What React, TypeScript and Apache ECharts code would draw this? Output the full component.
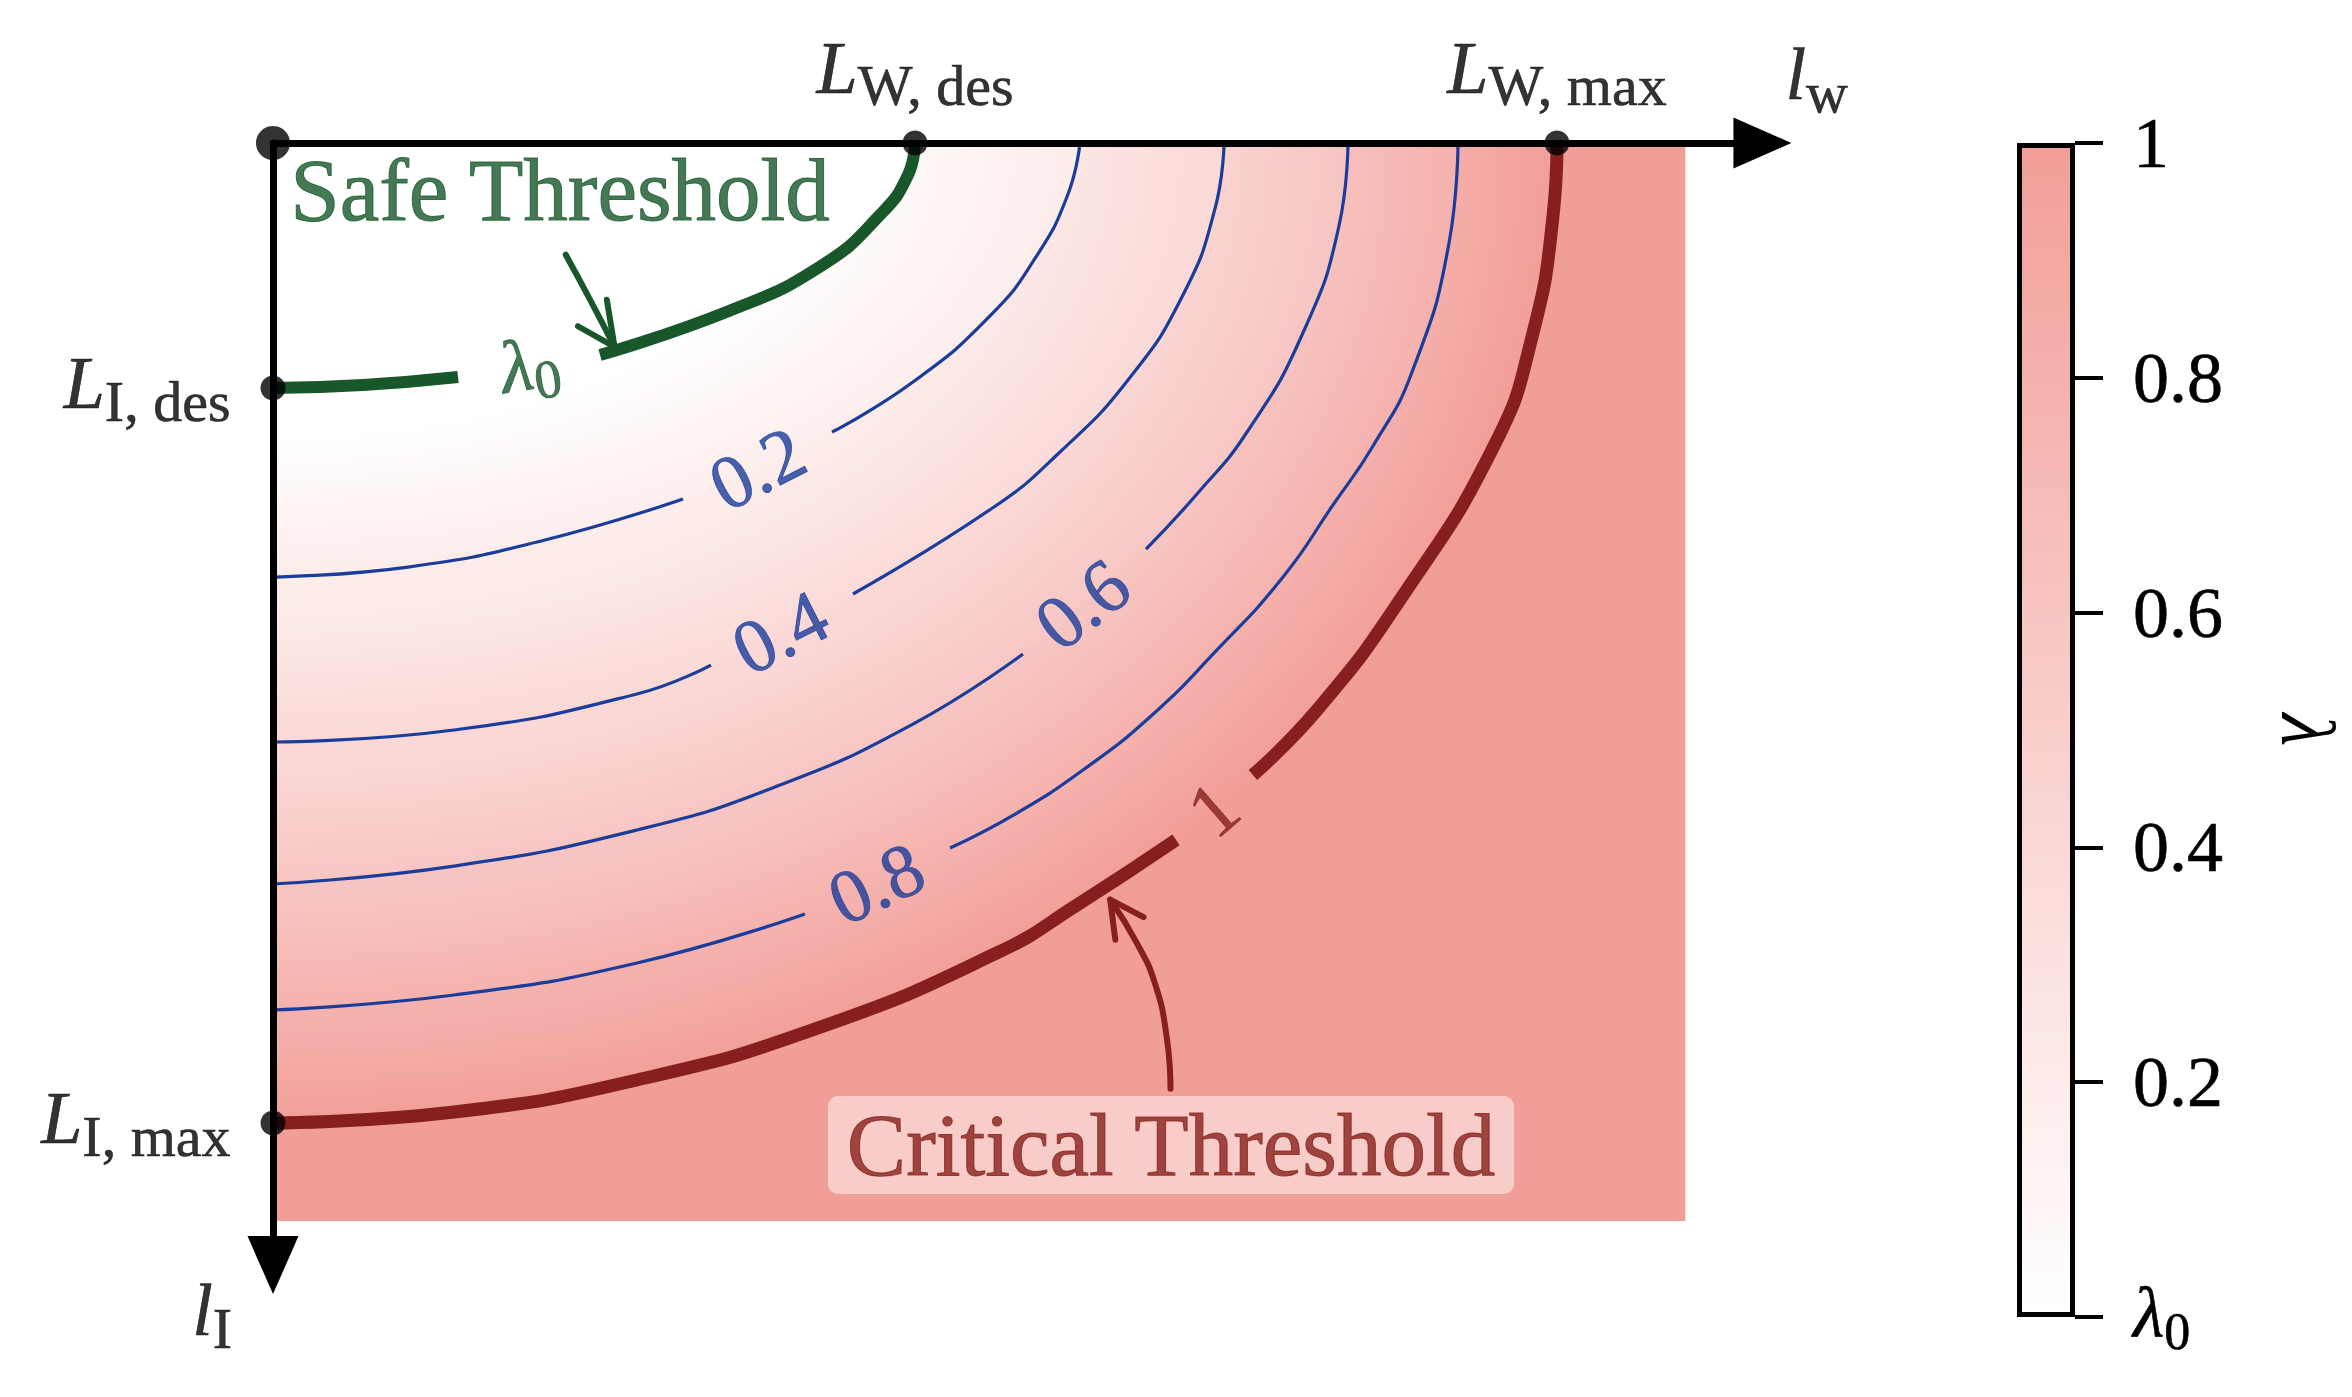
import React, { useEffect, useRef } from 'react';
import * as echarts from 'echarts';

type Pt = [number, number];

// ---------------- data (l_w along x, l_I along y, in units of L_max) ----------------
const levelValues = [0, 0.2, 0.4, 0.6, 0.8, 1];
const levelNames = ['λ0', '0.2', '0.4', '0.6', '0.8', '1'];

// contour lines: from the l_I axis (l_w = 0) to the l_w axis (l_I = 0)
const contourSafe: Pt[] = [[0, 0.25], [0.0701, 0.2469], [0.1441, 0.2388], [0.2002, 0.2296], [0.2547, 0.2163], [0.3551, 0.1714], [0.4268, 0.1255], [0.4735, 0.0724], [0.4945, 0.0327], [0.5, 0]];
const contour02: Pt[] = [[0, 0.4429], [0.1051, 0.4327], [0.2118, 0.4051], [0.3193, 0.3633], [0.3769, 0.3316], [0.4354, 0.2949], [0.4984, 0.2439], [0.5584, 0.1765], [0.5942, 0.1163], [0.6192, 0.052], [0.6285, 0]];
const contour04: Pt[] = [[0, 0.6112], [0.141, 0.599], [0.2835, 0.5622], [0.3411, 0.5327], [0.3949, 0.499], [0.4517, 0.4602], [0.5615, 0.3714], [0.6121, 0.3163], [0.6659, 0.2418], [0.7087, 0.1551], [0.7336, 0.0673], [0.7407, 0]];
const contour06: Pt[] = [[0, 0.7561], [0.141, 0.7378], [0.2835, 0.701], [0.391, 0.6571], [0.4984, 0.5929], [0.5841, 0.5214], [0.6301, 0.4704], [0.6799, 0.4143], [0.7196, 0.3582], [0.7586, 0.2949], [0.8014, 0.1959], [0.8302, 0.0847], [0.8372, 0]];
const contour08: Pt[] = [[0, 0.8847], [0.141, 0.8694], [0.2835, 0.8367], [0.4143, 0.7867], [0.4696, 0.7551], [0.5273, 0.7194], [0.5794, 0.6837], [0.6308, 0.6398], [0.683, 0.5857], [0.7352, 0.5173], [0.7866, 0.4429], [0.8255, 0.3694], [0.8567, 0.3092], [0.8871, 0.2337], [0.9159, 0.102], [0.9229, 0]];
const contourCritical: Pt[] = [[0, 1], [0.141, 0.9888], [0.2835, 0.9561], [0.4268, 0.902], [0.5654, 0.8255], [0.6262, 0.7776], [0.7033, 0.7112], [0.7321, 0.6796], [0.7632, 0.6449], [0.8131, 0.5786], [0.8777, 0.4663], [0.9517, 0.3071], [0.9805, 0.198], [0.9969, 0.0745], [1, 0]];
const contours: Pt[][] = [contourSafe, contour02, contour04, contour06, contour08, contourCritical];
// index of the point where each contour's inline label sits (line is broken around it)
const labelIndex = [3, 4, 4, 6, 4, 7];
const labelAngle = [9, 27, 27, 38, 25, 41];

// coloured field extent and axis extents
const fieldExtent: Pt[] = [[0, 1.1], [1.1, 1.1]];
const lwAxisMax = 1.16;
const lIAxisMax = 1.145;

// marked points on the axes
const originPoint: Pt = [0, 0];
const topMarks: Pt[] = [[0.5, 0], [1, 0]];
const topMarkSubs = ['W, des', 'W, max'];
const leftMarks: Pt[] = [[0, 0.25], [0, 1]];
const leftMarkSubs = ['I, des', 'I, max'];

// annotations
const safeText = 'Safe Threshold';
const safeTextAt: Pt = [0.2235, 0.048];
const criticalText = 'Critical Threshold';
const criticalTextAt: Pt = [0.6994, 1.0224];
const safeArrowShaft: Pt[] = [[0.228, 0.114], [0.247, 0.16], [0.266, 0.208]];
const safeArrowHead: Pt[] = [[0.2375, 0.187], [0.266, 0.208], [0.26, 0.16]];
const criticalArrowShaft: Pt[] = [[0.699, 0.965], [0.696, 0.912], [0.687, 0.858], [0.673, 0.817], [0.652, 0.772]];
const criticalArrowHead: Pt[] = [[0.678, 0.79], [0.652, 0.772], [0.656, 0.813]];

// colour bar ticks
const colorbarMin = 0;
const colorbarMax = 1;
const colorbarStep = 0.2;

// ---------------- styles ----------------
const SERIF = "'Liberation Serif', 'DejaVu Serif', serif";
const SALMON = [242, 158, 152];
const BLUE = '#1A3C9A';
const GREEN = '#17572A';
const RED = '#87201C';

function mix(t: number): string {
  const c = SALMON.map((v) => Math.round(255 + (v - 255) * t));
  return `rgb(${c[0]},${c[1]},${c[2]})`;
}

function buildOption(): any {
  const series: any[] = [];

  // coloured field beyond the critical threshold
  series.push({
    type: 'line', xAxisIndex: 0, yAxisIndex: 0, data: fieldExtent, symbol: 'none', silent: true,
    lineStyle: { width: 0, opacity: 0 },
    areaStyle: { color: mix(1), opacity: 1, origin: 'start' }, z: 1,
  });

  // bands between contours, drawn from the outside in
  for (let k = contours.length - 1; k >= 0; k--) {
    const pts = contours[k];
    const a = Math.max(...pts.map((p) => p[0]));
    const b = Math.max(...pts.map((p) => p[1]));
    let fill: any;
    if (k === 0) {
      fill = mix(levelValues[0]);
    } else {
      const inner = contours[k - 1];
      const rho = inner.reduce((s, p) => s + Math.hypot(p[0] / a, p[1] / b), 0) / inner.length;
      fill = {
        type: 'radial', x: 0, y: 0, r: 1, global: false,
        colorStops: [
          { offset: 0, color: mix(levelValues[k - 1]) },
          { offset: rho, color: mix(levelValues[k - 1]) },
          { offset: 1, color: mix(levelValues[k]) },
        ],
      };
    }
    series.push({
      type: 'line', xAxisIndex: 0, yAxisIndex: 0, data: pts, smooth: 0.5, symbol: 'none', silent: true,
      lineStyle: { width: 0, opacity: 0 },
      areaStyle: { color: fill, opacity: 1, origin: 'start' }, z: 1,
    });
  }

  // contour lines, broken around their labels
  const labelData: any[] = [];
  contours.forEach((pts, k) => {
    const color = k === 0 ? GREEN : k === contours.length - 1 ? RED : BLUE;
    const width = k === 0 ? 12 : k === contours.length - 1 ? 13 : 3.2;
    const li = labelIndex[k];
    [pts.slice(0, li), pts.slice(li + 1)].forEach((seg) => {
      series.push({
        type: 'line', xAxisIndex: 0, yAxisIndex: 0, data: seg, smooth: 0.5, symbol: 'none', silent: true,
        lineStyle: { color, width, cap: 'butt' }, z: 3,
      });
    });
    labelData.push({
      value: pts[li],
      label: {
        show: true, position: 'inside', rotate: labelAngle[k], color, textBorderColor: color, textBorderWidth: 0.8,
        formatter: k === 0 ? '{it|λ}{sub|0}' : levelNames[k],
      },
    });
  });

  series.push({
    type: 'scatter', xAxisIndex: 0, yAxisIndex: 0, data: labelData, symbolSize: 0, silent: true, clip: false, z: 6,
    itemStyle: { color: 'transparent' },
    label: {
      show: true, fontFamily: SERIF, fontSize: 76,
      rich: {
        it: { fontFamily: SERIF, fontStyle: 'italic', fontSize: 74, color: GREEN, textBorderColor: GREEN, textBorderWidth: 0.8, padding: [0, 0, 8, 0], verticalAlign: 'bottom' },
        sub: { fontFamily: SERIF, fontSize: 54, color: GREEN, textBorderColor: GREEN, textBorderWidth: 0.8, verticalAlign: 'bottom' },
      },
    },
  });

  // annotation arrows
  const arrow = (data: Pt[], color: string, smooth: boolean) => ({
    type: 'line', xAxisIndex: 0, yAxisIndex: 0, data, smooth, symbol: 'none', silent: true,
    lineStyle: { color, width: 6, cap: 'round', join: 'round' }, z: 3,
  });
  series.push(arrow(safeArrowShaft, GREEN, true));
  series.push(arrow(safeArrowHead, GREEN, false));
  series.push(arrow(criticalArrowShaft, RED, true));
  series.push(arrow(criticalArrowHead, RED, false));

  // annotation texts
  series.push({
    type: 'scatter', xAxisIndex: 0, yAxisIndex: 0, symbolSize: 0, silent: true, clip: false, z: 6,
    itemStyle: { color: 'transparent' },
    data: [
      {
        value: safeTextAt,
        label: { show: true, position: 'inside', formatter: safeText, color: GREEN, textBorderColor: GREEN, textBorderWidth: 1, fontFamily: SERIF, fontSize: 89 },
      },
      {
        value: criticalTextAt,
        label: {
          show: true, position: 'inside', formatter: criticalText, color: RED, textBorderColor: RED, textBorderWidth: 1, fontFamily: SERIF, fontSize: 89,
          backgroundColor: '#F9D8D6', borderRadius: 10, padding: [8, 18, 8, 18], lineHeight: 82,
        },
      },
    ],
  });

  // marked points on the axes
  const markRich = {
    it: { fontFamily: SERIF, fontStyle: 'italic', fontSize: 74, color: '#000', textBorderColor: '#000', textBorderWidth: 0.6, padding: [0, 0, 10, 0], verticalAlign: 'bottom' },
    sub: { fontFamily: SERIF, fontSize: 58, color: '#000', textBorderColor: '#000', textBorderWidth: 0.6, verticalAlign: 'bottom' },
  };
  const dots: any[] = [{ value: originPoint, symbolSize: 34 }];
  topMarks.forEach((p, i) => dots.push({
    value: p,
    label: { show: true, position: 'top', distance: 16, formatter: `{it|L}{sub|${topMarkSubs[i]}}`, rich: markRich },
  }));
  leftMarks.forEach((p, i) => dots.push({
    value: p,
    label: { show: true, position: 'left', distance: 30, formatter: `{it|L}{sub|${leftMarkSubs[i]}}`, rich: markRich },
  }));
  series.push({
    type: 'scatter', xAxisIndex: 0, yAxisIndex: 0, data: dots, symbol: 'circle', symbolSize: 25, silent: true, clip: false, z: 7,
    itemStyle: { color: '#000' },
  });

  // axis titles l_w and l_I
  series.push({
    type: 'scatter', xAxisIndex: 0, yAxisIndex: 0, symbolSize: 0, silent: true, clip: false, z: 7,
    itemStyle: { color: 'transparent' },
    data: [
      { value: [lwAxisMax, 0], label: { show: true, position: 'inside', align: 'left', verticalAlign: 'bottom', offset: [23, -22], formatter: '{it|l}{sub|w}', rich: markRich } },
      { value: [0, lIAxisMax], label: { show: true, position: 'inside', align: 'right', verticalAlign: 'bottom', offset: [-41, 92], formatter: '{it|l}{sub|I}', rich: markRich } },
    ],
  });

  // colour bar
  series.push({
    type: 'bar', xAxisIndex: 1, yAxisIndex: 1, data: [colorbarMax], barWidth: '100%', silent: true,
    itemStyle: {
      color: { type: 'linear', x: 0, y: 0, x2: 0, y2: 1, colorStops: [{ offset: 0, color: mix(1) }, { offset: 1, color: mix(0) }] },
      borderColor: '#000', borderWidth: 5,
    },
  });

  const axisLineStyle = { color: '#000', width: 7 };

  return {
    animation: false,
    backgroundColor: '#ffffff',
    grid: [
      { left: 273, top: 143, width: lwAxisMax * 1284, height: lIAxisMax * 980, containLabel: false, outerBoundsMode: 'none' },
      { left: 2017, top: 143, width: 58, height: 1174, containLabel: false, outerBoundsMode: 'none' },
    ],
    xAxis: [
      {
        gridIndex: 0, type: 'value', min: 0, max: lwAxisMax, position: 'top', z: 5,
        axisLine: { show: true, onZero: false, lineStyle: axisLineStyle, symbol: ['none', 'triangle'], symbolSize: [51, 58] },
        axisTick: { show: false }, axisLabel: { show: false }, splitLine: { show: false },
      },
      { gridIndex: 1, type: 'category', data: ['λ'], show: false },
    ],
    yAxis: [
      {
        gridIndex: 0, type: 'value', min: 0, max: lIAxisMax, inverse: true, position: 'left', z: 5,
        axisLine: { show: true, onZero: false, lineStyle: axisLineStyle, symbol: ['triangle', 'none'], symbolSize: [51, 58] },
        axisTick: { show: false }, axisLabel: { show: false }, splitLine: { show: false },
      },
      {
        gridIndex: 1, type: 'value', min: colorbarMin, max: colorbarMax, interval: colorbarStep, position: 'right',
        axisLine: { show: false },
        axisTick: { show: true, length: 28, lineStyle: { color: '#000', width: 4 } },
        splitLine: { show: false },
        axisLabel: {
          margin: 58, fontSize: 72, fontFamily: SERIF, color: '#000', textBorderColor: '#000', textBorderWidth: 0.6,
          formatter: (v: number) => (v === colorbarMin ? '{it|λ}{sub|0}' : String(v)),
          rich: {
            it: { fontFamily: SERIF, fontStyle: 'italic', fontSize: 72, color: '#000', textBorderColor: '#000', textBorderWidth: 0.6, padding: [0, 0, 8, 0], verticalAlign: 'bottom' },
            sub: { fontFamily: SERIF, fontSize: 52, color: '#000', textBorderColor: '#000', textBorderWidth: 0.6, verticalAlign: 'bottom' },
          },
        },
        name: 'λ', nameLocation: 'middle', nameGap: 195, nameRotate: -90,
        nameTextStyle: { fontFamily: SERIF, fontStyle: 'italic', fontSize: 76, color: '#000' },
      },
    ],
    series,
  };
}

export default function App() {
  const ref = useRef<HTMLDivElement>(null);
  useEffect(() => {
    if (!ref.current) return;
    const chart = echarts.init(ref.current, null, { renderer: 'svg' });
    chart.setOption(buildOption());
    return () => chart.dispose();
  }, []);
  return (
    <div
      ref={ref}
      style={{ position: 'fixed', left: 0, top: 0, width: '2352px', height: '1397px', background: '#fff' }}
    />
  );
}
